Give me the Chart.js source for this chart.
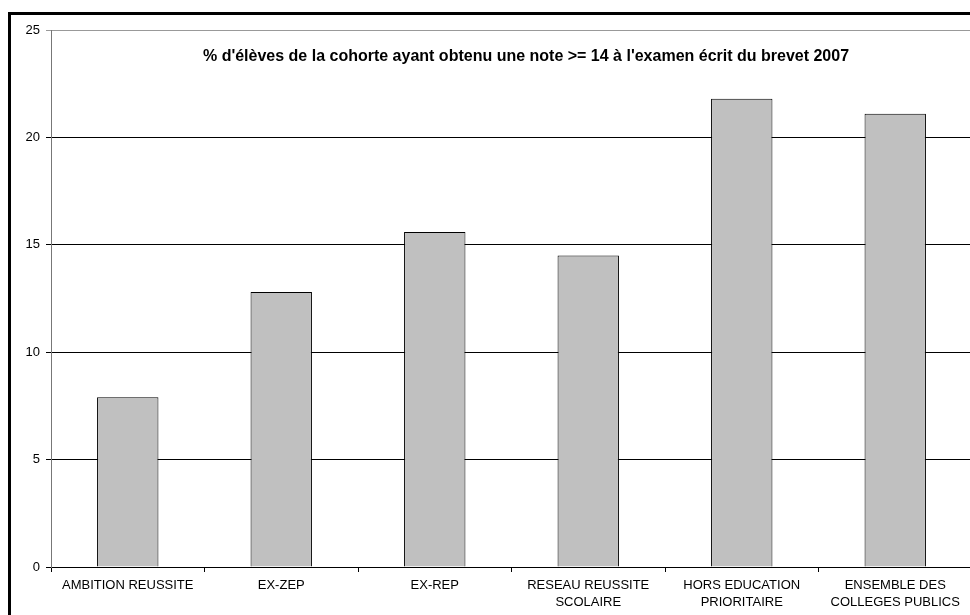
<!DOCTYPE html>
<html>
<head>
<meta charset="utf-8">
<script src="https://cdn.jsdelivr.net/npm/chart.js@4"></script>
<style>
  html, body { margin: 0; padding: 0; background: #fff; overflow: hidden; }
  #wrap { width: 975px; height: 615px; }
</style>
</head>
<body>
<div id="wrap"><canvas id="brevetChart" width="975" height="615"></canvas></div>
<script>
// données du graphique
const categories = [
  'AMBITION REUSSITE',
  'EX-ZEP',
  'EX-REP',
  ['RESEAU REUSSITE', 'SCOLAIRE'],
  ['HORS EDUCATION', 'PRIORITAIRE'],
  ['ENSEMBLE DES', 'COLLEGES PUBLICS']
];
const pourcentages = [7.9, 12.8, 15.6, 14.5, 21.8, 21.1];
const yTicks = [0, 5, 10, 15, 20, 25];
const titre = "% d'élèves de la cohorte ayant obtenu une note >= 14 à l'examen écrit du brevet 2007";

// cadre + titre dans la zone du graphique
const cadrePlugin = {
  id: 'cadre',
  beforeDraw(chart) {
    const ctx = chart.ctx;
    ctx.save();
    ctx.fillStyle = '#000';
    ctx.fillRect(8, 12, 3, 615);
    ctx.fillRect(8, 12, 975, 3);
    ctx.restore();
  },
  afterDraw(chart) {
    const ctx = chart.ctx;
    ctx.save();
    ctx.font = 'bold 16px "Liberation Sans", Arial, sans-serif';
    ctx.fillStyle = '#000';
    ctx.textAlign = 'center';
    ctx.textBaseline = 'middle';
    ctx.fillText(titre, 526, 57);
    ctx.restore();
  }
};

const ctx = document.getElementById('brevetChart').getContext('2d');
new Chart(ctx, {
  type: 'bar',
  data: {
    labels: categories,
    datasets: [{
      data: pourcentages,
      backgroundColor: '#c0c0c0',
      borderColor: '#000',
      borderWidth: 1,
      categoryPercentage: 1,
      barPercentage: 0.4
    }]
  },
  options: {
    responsive: false,
    animation: false,
    layout: { padding: { top: 30, right: 3, left: 0, bottom: 0 } },
    plugins: {
      legend: { display: false },
      tooltip: { enabled: false }
    },
    scales: {
      x: {
        grid: {
          offset: true,
          drawOnChartArea: false,
          drawTicks: true,
          tickLength: 5,
          color: '#000'
        },
        border: { color: '#000', width: 1 },
        ticks: {
          color: '#000',
          font: { family: '"Liberation Sans", Arial, sans-serif', size: 13, lineHeight: 1.3 },
          maxRotation: 0,
          autoSkip: false,
          padding: 5
        },
        afterFit: scale => { scale.height = 48; }
      },
      y: {
        min: 0,
        max: 25,
        afterBuildTicks: scale => { scale.ticks = yTicks.map(v => ({ value: v })); },
        grid: {
          color: c => (c.tick && c.tick.value === 25) ? '#999' : '#000',
          tickLength: 5,
          drawTicks: true
        },
        border: { color: '#777', width: 1 },
        ticks: {
          color: '#000',
          font: { family: '"Liberation Sans", Arial, sans-serif', size: 13 },
          padding: 6
        },
        afterFit: scale => { scale.width = 51; }
      }
    }
  },
  plugins: [cadrePlugin]
});
</script>
</body>
</html>
